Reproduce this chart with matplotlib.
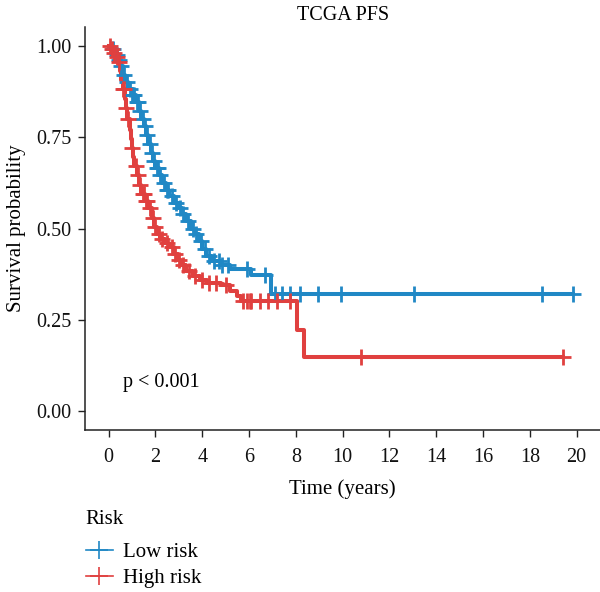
import numpy as np
import matplotlib
matplotlib.use("Agg")
import matplotlib.pyplot as plt
from matplotlib.lines import Line2D

plt.rcParams['font.family'] = ['Liberation Serif', 'DejaVu Serif']

# ---- DATA ----
groups = ["Low risk", "High risk"]
colors = ["#2088C5", "#E0403F"]

low_t = [0.0, 0.15, 0.3, 0.4, 0.5, 0.6, 0.7, 0.85, 1.0, 1.15, 1.3, 1.4, 1.5, 1.6, 1.7,
         1.8, 1.9, 2.0, 2.15, 2.3, 2.45, 2.6, 2.8, 3.0, 3.15, 3.3, 3.5, 3.7, 3.85, 4.0,
         4.15, 4.4, 4.8, 5.2, 6.1, 6.95]
low_s = [1.00, 0.99, 0.975, 0.96, 0.945, 0.92, 0.90, 0.88, 0.865, 0.845, 0.82, 0.80, 0.78,
         0.755, 0.73, 0.705, 0.685, 0.665, 0.645, 0.625, 0.605, 0.59, 0.57, 0.555, 0.54,
         0.52, 0.50, 0.485, 0.465, 0.445, 0.425, 0.41, 0.40, 0.39, 0.372, 0.32]
low_cens = [0.2, 0.35, 0.45, 0.55, 0.65, 0.8, 0.9, 1.0, 1.05, 1.1, 1.2, 1.25, 1.35, 1.45,
            1.55, 1.65, 1.75, 1.85, 1.95, 2.05, 2.1, 2.2, 2.35, 2.5, 2.55, 2.7, 2.9, 3.05,
            3.2, 3.4, 3.6, 3.75, 3.95, 4.1, 4.3, 4.5, 4.7, 4.85, 5.1, 5.9, 6.7, 7.1, 7.4,
            7.75, 8.2, 8.95, 9.95, 13.05, 18.5, 19.85]

high_t = [0.0, 0.1, 0.2, 0.3, 0.4, 0.5, 0.55, 0.6, 0.7, 0.75, 0.8, 0.9, 0.95, 1.0, 1.05,
          1.1, 1.2, 1.3, 1.4, 1.55, 1.7, 1.85, 1.95, 2.05, 2.2, 2.4, 2.6, 2.8, 2.95, 3.1,
          3.3, 3.6, 3.9, 4.2, 4.8, 5.2, 5.5, 5.65, 8.05, 8.35]
high_s = [1.00, 0.99, 0.98, 0.97, 0.955, 0.93, 0.905, 0.88, 0.855, 0.83, 0.80, 0.77, 0.745,
          0.72, 0.695, 0.67, 0.645, 0.62, 0.595, 0.575, 0.555, 0.53, 0.505, 0.485, 0.47,
          0.46, 0.45, 0.43, 0.415, 0.40, 0.385, 0.37, 0.36, 0.352, 0.345, 0.33, 0.315,
          0.303, 0.222, 0.15]
high_cens = [0.05, 0.15, 0.25, 0.35, 0.45, 0.6, 0.65, 0.75, 0.85, 1.0, 1.15, 1.25, 1.35,
             1.45, 1.5, 1.6, 1.65, 1.75, 1.9, 2.0, 2.15, 2.3, 2.5, 2.7, 2.85, 3.0, 3.2,
             3.45, 3.7, 4.0, 4.3, 4.6, 5.0, 5.75, 5.9, 6.05, 6.1, 6.45, 6.8, 7.2, 7.75,
             10.8, 19.4]

x_ticks = list(range(0, 21, 2))
y_ticks = [0.0, 0.25, 0.5, 0.75, 1.0]


def surv_at(times, surv, t):
    idx = np.searchsorted(times, t, side="right") - 1
    return np.asarray(surv)[idx]


fig = plt.figure(figsize=(6, 5.92), dpi=100)
ax = fig.add_axes([0.142, 0.274, 0.858, 0.680])

curves = [(low_t, low_s, low_cens), (high_t, high_s, high_cens)]
for (t, s, cens), col, name in zip(curves, colors, groups):
    t_end = max(max(t), max(cens))
    tt = list(t) + [t_end]
    ss = list(s) + [s[-1]]
    ax.step(tt, ss, where="post", color=col, lw=2.9, zorder=3)
    cy = surv_at(t, s, np.array(cens))
    ax.plot(cens, cy, ls="none", marker="+", ms=11, mew=2.0, color=col, zorder=4)

ax.set_xlim(-1, 21)
ax.set_ylim(-0.05, 1.05)
ax.set_xticks(x_ticks)
ax.set_yticks(y_ticks)
ax.set_yticklabels(["0.00", "0.25", "0.50", "0.75", "1.00"])
ax.tick_params(labelsize=14.5, length=5, width=1, pad=5, colors="#222222",
               labelcolor="#111111")
ax.tick_params(axis="x", pad=8)
for side in ["top", "right"]:
    ax.spines[side].set_visible(False)
for side in ["left", "bottom"]:
    ax.spines[side].set_linewidth(1.1)
    ax.spines[side].set_color("#222222")

ax.set_xlabel("Time (years)", fontsize=15, labelpad=9)
ax.set_ylabel("Survival probability", fontsize=15, labelpad=7)
ax.set_title("TCGA PFS", fontsize=14.5, pad=5)
ax.text(0.6, 0.08, "p < 0.001", fontsize=14.5, va="center", ha="left")

# legend: title drawn separately so the gap matches
fig.text(85 / 600, 1 - 520 / 592, "Risk", fontsize=15, va="center", ha="left")
handles = [Line2D([0], [0], color=c, lw=1.2, marker="+", ms=13, mew=1.2) for c in colors]
fig.legend(handles, groups, loc="upper left",
           bbox_to_anchor=(0.143, 0.083), frameon=False, fontsize=15,
           handlelength=1.3, handletextpad=0.5, labelspacing=0.3,
           borderaxespad=0, borderpad=0)

fig.savefig("out.png", dpi=100)
